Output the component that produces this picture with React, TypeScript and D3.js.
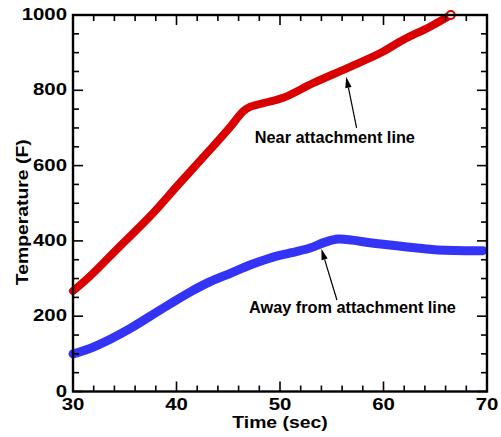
import React from "react";
import * as d3 from "d3";

// Surface temperature histories (time in sec, temperature in F)
const nearTime = [30, 31.6, 34.5, 37.4, 40.3, 43.2, 45.2, 46.4, 47.1, 48.4, 50.3, 53.2, 56.5, 59.7, 61.9, 64.5, 66.5];
const nearTemp = [267, 305, 385, 464, 553, 641, 703, 743, 756, 766, 780, 819, 859, 899, 934, 969, 1000];

const awayTime = [30, 31.6, 33.6, 35.5, 37.4, 39.4, 41.3, 43.2, 45.2, 47.1, 49.0, 51.0, 52.9, 54.3, 55.6, 57, 58.7, 61.9, 65.2, 69.6];
const awayTemp = [100, 114, 139, 167, 199, 233, 264, 291, 314, 336, 354, 368, 381, 396, 405, 402, 395, 385, 376, 374];

const xMajor = [30, 40, 50, 60, 70];
const yMajor = [0, 200, 400, 600, 800, 1000];

const W = 501;
const H = 437;
const left = 73;
const right = 487;
const top = 15;
const bottom = 391.5;

const FONT = "Liberation Sans, Arial, Helvetica, sans-serif";

export default function App() {
  const x = d3.scaleLinear().domain([30, 70]).range([left, right]);
  const y = d3.scaleLinear().domain([0, 1000]).range([bottom, top]);

  const xMinor = d3.range(30, 70.001, 2).filter((v) => !xMajor.includes(v));
  const yMinor = d3.range(0, 1000.001, 50).filter((v) => !yMajor.includes(v));

  const line = d3
    .line<[number, number]>()
    .x((d) => x(d[0]))
    .y((d) => y(d[1]))
    .curve(d3.curveCatmullRom.alpha(0.5));

  const nearPts = nearTime.map((t, i) => [t, nearTemp[i]] as [number, number]);
  const awayPts = awayTime.map((t, i) => [t, awayTemp[i]] as [number, number]);

  const majorLen = 10;
  const minorLen = 6;

  const arrow = (t0: number, v0: number, t1: number, v1: number) => {
    const x0 = x(t0), y0 = y(v0), x1 = x(t1), y1 = y(v1);
    const ang = Math.atan2(y1 - y0, x1 - x0);
    const hl = 11, hw = 3.2;
    const bx = x1 - hl * Math.cos(ang);
    const by = y1 - hl * Math.sin(ang);
    const px = -Math.sin(ang) * hw, py = Math.cos(ang) * hw;
    return (
      <g>
        <line x1={x0} y1={y0} x2={bx} y2={by} stroke="#000" strokeWidth={1.2} />
        <path d={`M${x1},${y1}L${bx + px},${by + py}L${bx - px},${by - py}Z`} fill="#000" />
      </g>
    );
  };

  return (
    <svg width={W} height={H} style={{ position: "absolute", left: 0, top: 0, background: "#fff" }}>
      {/* data curves */}
      <path d={line(nearPts) || ""} fill="none" stroke="#d80000" strokeWidth={8} strokeLinecap="round" strokeLinejoin="round" />
      <path d={line(awayPts) || ""} fill="none" stroke="#3434f6" strokeWidth={9} strokeLinecap="round" strokeLinejoin="round" />
      <circle cx={x(nearTime[nearTime.length - 1])} cy={y(nearTemp[nearTemp.length - 1])} r={4} fill="#fff" stroke="#d80000" strokeWidth={2} />

      {/* ticks on all four sides */}
      <g stroke="#000" strokeWidth={1.6}>
        {xMajor.map((v) => (
          <g key={"xM" + v}>
            <line x1={x(v)} x2={x(v)} y1={bottom} y2={bottom - majorLen} />
            <line x1={x(v)} x2={x(v)} y1={top} y2={top + majorLen} />
          </g>
        ))}
        {xMinor.map((v) => (
          <g key={"xm" + v}>
            <line x1={x(v)} x2={x(v)} y1={bottom} y2={bottom - minorLen} />
            <line x1={x(v)} x2={x(v)} y1={top} y2={top + minorLen} />
          </g>
        ))}
        {yMajor.map((v) => (
          <g key={"yM" + v}>
            <line x1={left} x2={left + majorLen} y1={y(v)} y2={y(v)} />
            <line x1={right} x2={right - majorLen} y1={y(v)} y2={y(v)} />
          </g>
        ))}
        {yMinor.map((v) => (
          <g key={"ym" + v}>
            <line x1={left} x2={left + minorLen} y1={y(v)} y2={y(v)} />
            <line x1={right} x2={right - minorLen} y1={y(v)} y2={y(v)} />
          </g>
        ))}
      </g>
      <rect x={left} y={top} width={right - left} height={bottom - top} fill="none" stroke="#000" strokeWidth={2.4} />

      {/* tick labels */}
      <g fontFamily={FONT} fontWeight="bold" fontSize={17} fill="#000">
        {xMajor.map((v) => (
          <text key={"xl" + v} transform={`translate(${x(v)},${bottom + 18}) scale(1.2,1)`} textAnchor="middle">
            {v}
          </text>
        ))}
        {yMajor.map((v) => (
          <text key={"yl" + v} transform={`translate(${left - 6},${y(v) + 5}) scale(1.2,1)`} textAnchor="end">
            {v}
          </text>
        ))}
      </g>

      {/* axis titles */}
      <g fontFamily={FONT} fontWeight="bold" fontSize={17} fill="#000">
        <text transform={`translate(${(left + right) / 2},${bottom + 36}) scale(1.14,1)`} textAnchor="middle">
          Time (sec)
        </text>
        <text transform={`translate(28,${(top + bottom) / 2 + 9}) rotate(-90) scale(1.14,1)`} textAnchor="middle">
          Temperature (F)
        </text>
      </g>

      {/* annotations */}
      {arrow(57.4, 700, 56.4, 836)}
      {arrow(55.5, 243, 54.0, 379)}
      <g fontFamily={FONT} fontWeight="bold" fontSize={16.3} fill="#000">
        <text x={x(55.3)} y={y(661)} textAnchor="middle">Near attachment line</text>
        <text x={x(57.0)} y={y(208)} textAnchor="middle">Away from attachment line</text>
      </g>
    </svg>
  );
}
